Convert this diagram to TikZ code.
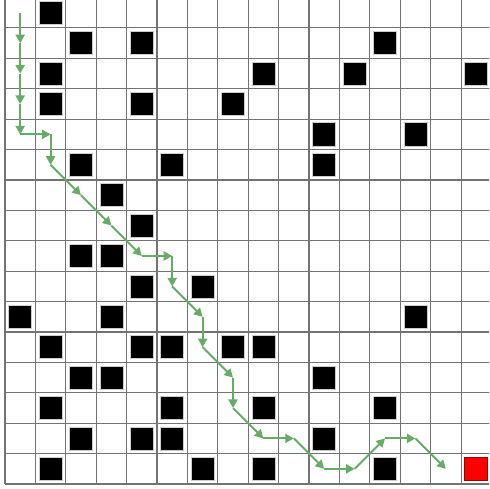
\documentclass[tikz,border=0pt]{standalone}
\usepackage{tikz}
\usetikzlibrary{arrows.meta}
\usetikzlibrary{positioning}
\tikzset{
    block/.style={
        rectangle,
        draw=black!20,
        fill=black,
        line width=0.6pt,
        minimum size=0.76cm,
        inner sep=0pt
    },
    goal/.style={
        block,
        draw=red!60!black,
        fill=red
    },
    move/.style={
        -{Triangle[length=8pt,width=8.5pt]},
        line width=1.8pt,
        draw=green!45!black!60!white,
        line join=round
    }
}

\begin{document}
\begin{tikzpicture}
        \useasboundingbox (-0.164,-0.164) rectangle (15.92,15.92);
        \clip (-0.164,-0.164) rectangle (15.92,15.92);

        % Grid
        \draw [black!55, line width=1pt] (0,0) grid (16,16);

        % Row 0
        \node (block_0_1) [block] at (1.5,15.5) {};
        % Row 1
        \node (block_1_2) [block] at (2.5,14.5) {};
        \node (block_1_4) [block] at (4.5,14.5) {};
        \node (block_1_12) [block] at (12.5,14.5) {};
        % Row 2
        \node (block_2_1) [block] at (1.5,13.5) {};
        \node (block_2_8) [block] at (8.5,13.5) {};
        \node (block_2_11) [block] at (11.5,13.5) {};
        \node (block_2_15) [block] at (15.5,13.5) {};
        % Row 3
        \node (block_3_1) [block] at (1.5,12.5) {};
        \node (block_3_4) [block] at (4.5,12.5) {};
        \node (block_3_7) [block] at (7.5,12.5) {};
        % Row 4
        \node (block_4_10) [block] at (10.5,11.5) {};
        \node (block_4_13) [block] at (13.5,11.5) {};
        % Row 5
        \node (block_5_2) [block] at (2.5,10.5) {};
        \node (block_5_5) [block] at (5.5,10.5) {};
        \node (block_5_10) [block] at (10.5,10.5) {};
        % Row 6
        \node (block_6_3) [block] at (3.5,9.5) {};
        % Row 7
        \node (block_7_4) [block] at (4.5,8.5) {};
        % Row 8
        \node (block_8_2) [block] at (2.5,7.5) {};
        \node (block_8_3) [block] at (3.5,7.5) {};
        % Row 9
        \node (block_9_4) [block] at (4.5,6.5) {};
        \node (block_9_6) [block] at (6.5,6.5) {};
        % Row 10
        \node (block_10_0) [block] at (0.5,5.5) {};
        \node (block_10_3) [block] at (3.5,5.5) {};
        \node (block_10_13) [block] at (13.5,5.5) {};
        % Row 11
        \node (block_11_1) [block] at (1.5,4.5) {};
        \node (block_11_4) [block] at (4.5,4.5) {};
        \node (block_11_5) [block] at (5.5,4.5) {};
        \node (block_11_7) [block] at (7.5,4.5) {};
        \node (block_11_8) [block] at (8.5,4.5) {};
        % Row 12
        \node (block_12_2) [block] at (2.5,3.5) {};
        \node (block_12_3) [block] at (3.5,3.5) {};
        \node (block_12_10) [block] at (10.5,3.5) {};
        % Row 13
        \node (block_13_1) [block] at (1.5,2.5) {};
        \node (block_13_5) [block] at (5.5,2.5) {};
        \node (block_13_8) [block] at (8.5,2.5) {};
        \node (block_13_12) [block] at (12.5,2.5) {};
        % Row 14
        \node (block_14_2) [block] at (2.5,1.5) {};
        \node (block_14_4) [block] at (4.5,1.5) {};
        \node (block_14_5) [block] at (5.5,1.5) {};
        \node (block_14_10) [block] at (10.5,1.5) {};
        % Row 15
        \node (block_15_1) [block] at (1.5,0.5) {};
        \node (block_15_6) [block] at (6.5,0.5) {};
        \node (block_15_8) [block] at (8.5,0.5) {};
        \node (block_15_12) [block] at (12.5,0.5) {};

        % Target cell
        \node (target) [goal] at (15.5,0.5) {};

        % Path points (cell centres)
        \coordinate (p_0) at (0.5,15.5);
        \coordinate (p_1) at (0.5,14.5);
        \coordinate (p_2) at (0.5,13.5);
        \coordinate (p_3) at (0.5,12.5);
        \coordinate (p_4) at (0.5,11.5);
        \coordinate (p_5) at (1.5,11.5);
        \coordinate (p_6) at (1.5,10.5);
        \coordinate (p_7) at (2.5,9.5);
        \coordinate (p_8) at (3.5,8.5);
        \coordinate (p_9) at (4.5,7.5);
        \coordinate (p_10) at (5.5,7.5);
        \coordinate (p_11) at (5.5,6.5);
        \coordinate (p_12) at (6.5,5.5);
        \coordinate (p_13) at (6.5,4.5);
        \coordinate (p_14) at (7.5,3.5);
        \coordinate (p_15) at (7.5,2.5);
        \coordinate (p_16) at (8.5,1.5);
        \coordinate (p_17) at (9.5,1.5);
        \coordinate (p_18) at (10.5,0.5);
        \coordinate (p_19) at (11.5,0.5);
        \coordinate (p_20) at (12.5,1.5);
        \coordinate (p_21) at (13.5,1.5);
        \coordinate (p_22) at (14.5,0.5);

        % Moves
        \draw [move] (p_0) -- (p_1);
        \draw [move] (p_1) -- (p_2);
        \draw [move] (p_2) -- (p_3);
        \draw [move] (p_3) -- (p_4);
        \draw [move] (p_4) -- (p_5);
        \draw [move] (p_5) -- (p_6);
        \draw [move] (p_6) -- (p_7);
        \draw [move] (p_7) -- (p_8);
        \draw [move] (p_8) -- (p_9);
        \draw [move] (p_9) -- (p_10);
        \draw [move] (p_10) -- (p_11);
        \draw [move] (p_11) -- (p_12);
        \draw [move] (p_12) -- (p_13);
        \draw [move] (p_13) -- (p_14);
        \draw [move] (p_14) -- (p_15);
        \draw [move] (p_15) -- (p_16);
        \draw [move] (p_16) -- (p_17);
        \draw [move] (p_17) -- (p_18);
        \draw [move] (p_18) -- (p_19);
        \draw [move] (p_19) -- (p_20);
        \draw [move] (p_20) -- (p_21);
        \draw [move] (p_21) -- (p_22);

\end{tikzpicture}
\end{document}
